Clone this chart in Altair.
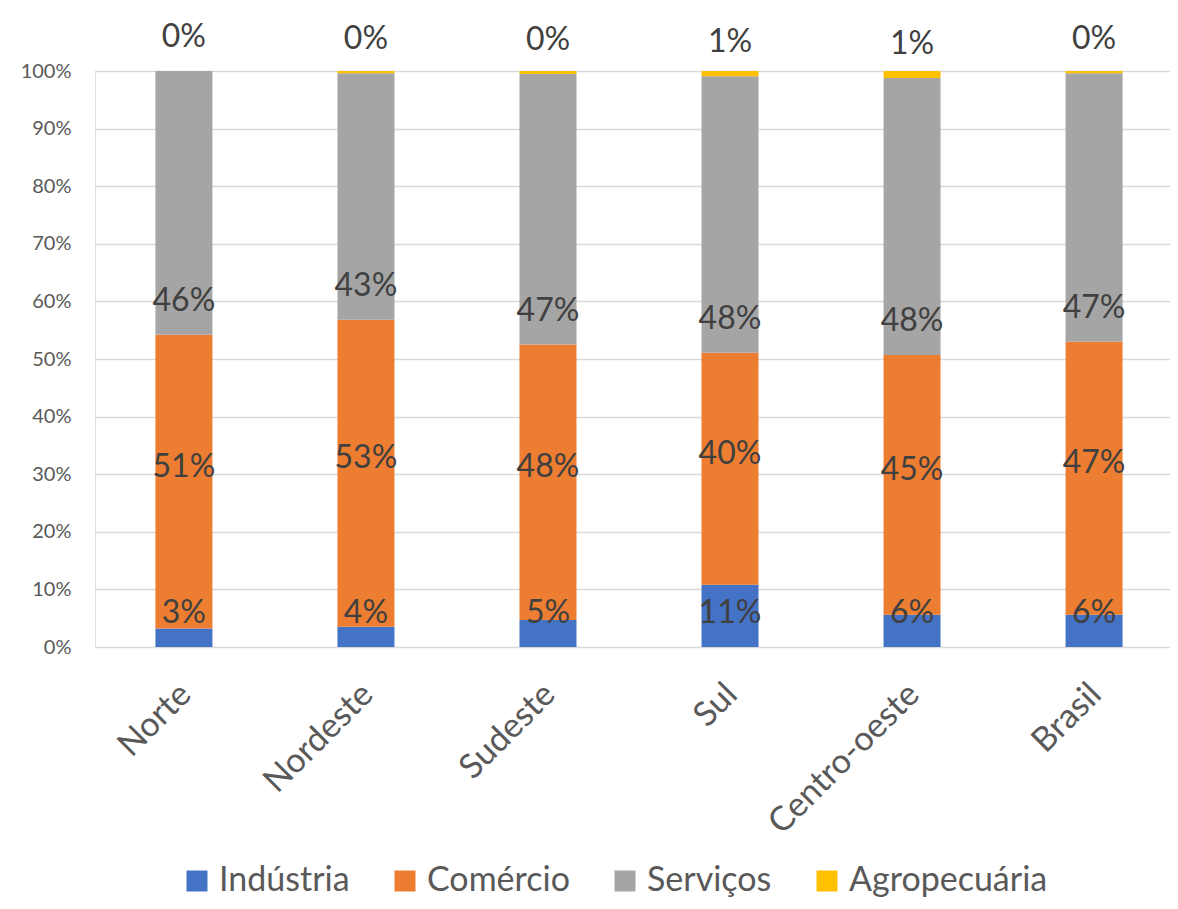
import altair as alt
import pandas as pd

regions = ["Norte", "Nordeste", "Sudeste", "Sul", "Centro-oeste", "Brasil"]
series = ["Indústria", "Comércio", "Serviços", "Agropecuária"]
colors = ["#4472C4", "#ED7D31", "#A5A5A5", "#FFC000"]

industria = [3.2, 3.5, 4.7, 10.8, 5.6, 5.6]
comercio = [51.0, 53.3, 47.8, 40.3, 45.1, 47.4]
servicos = [45.8, 42.8, 47.0, 48.0, 48.1, 46.6]
agro = [0.0, 0.4, 0.5, 0.9, 1.2, 0.4]

y_ticks = [0, 10, 20, 30, 40, 50, 60, 70, 80, 90, 100]

rows = []
for i, r in enumerate(regions):
    start = 0.0
    for s, vals in zip(series, [industria, comercio, servicos, agro]):
        v = vals[i]
        rows.append({"region": r, "series": s, "value": v, "start": start,
                     "end": start + v, "mid": start + v / 2,
                     "label": f"{round(v):d}%"})
        start += v
df = pd.DataFrame(rows)

FONT = "Lato"

x_scale = alt.Scale(range=[0, 1088], paddingInner=0.687, paddingOuter=0.332)

x_enc = alt.X("region:N", sort=regions, title=None, scale=x_scale,
              axis=alt.Axis(labelAngle=-45, labelFontSize=34, labelFont=FONT,
                            labelColor="#595959", domain=False, ticks=False,
                            labelPadding=30, labelOffset=-10, labelLimit=0,
                            grid=False))
y_scale = alt.Scale(domain=[0, 100], nice=False)

bars = alt.Chart(df).mark_bar(size=57).encode(
    x=x_enc,
    y=alt.Y("start:Q", scale=y_scale, title=None,
            axis=alt.Axis(values=y_ticks, labelExpr="datum.value + '%'",
                          labelFontSize=20, labelFont=FONT, labelColor="#595959",
                          domain=False, ticks=False, labelPadding=24,
                          grid=True, gridColor="#D9D9D9", gridWidth=1.5)),
    y2="end:Q",
    color=alt.Color("series:N", scale=alt.Scale(domain=series, range=colors),
                    sort=series,
                    legend=alt.Legend(title=None, orient="none", direction="horizontal",
                                      columns=4, legendX=85, legendY=793,
                                      symbolType="square", symbolSize=441,
                                      symbolStrokeWidth=0, labelFontSize=34,
                                      labelFont=FONT, labelColor="#595959",
                                      labelLimit=0,
                                      columnPadding=38, labelOffset=5)),
)

text_base = alt.Chart(df)
text_other = text_base.transform_filter(alt.datum.series != "Comércio").mark_text(
    dy=-34, fontSize=32, font=FONT, color="#404040", baseline="middle"
).encode(x=alt.X("region:N", sort=regions, scale=x_scale),
         y=alt.Y("start:Q", scale=y_scale), text="label:N")

text_com = text_base.transform_filter(alt.datum.series == "Comércio").mark_text(
    dy=-15, fontSize=32, font=FONT, color="#404040", baseline="middle"
).encode(x=alt.X("region:N", sort=regions, scale=x_scale),
         y=alt.Y("mid:Q", scale=y_scale), text="label:N")

chart = alt.layer(bars, text_other, text_com).properties(
    width=1075, height=576,
    padding={"left": 87, "top": 63, "right": 0, "bottom": 254},
    autosize=alt.AutoSizeParams(type="none"),
).configure_view(stroke=None).configure(background="white")

chart.save("out.html", embed_options={"renderer": "svg", "actions": False})
